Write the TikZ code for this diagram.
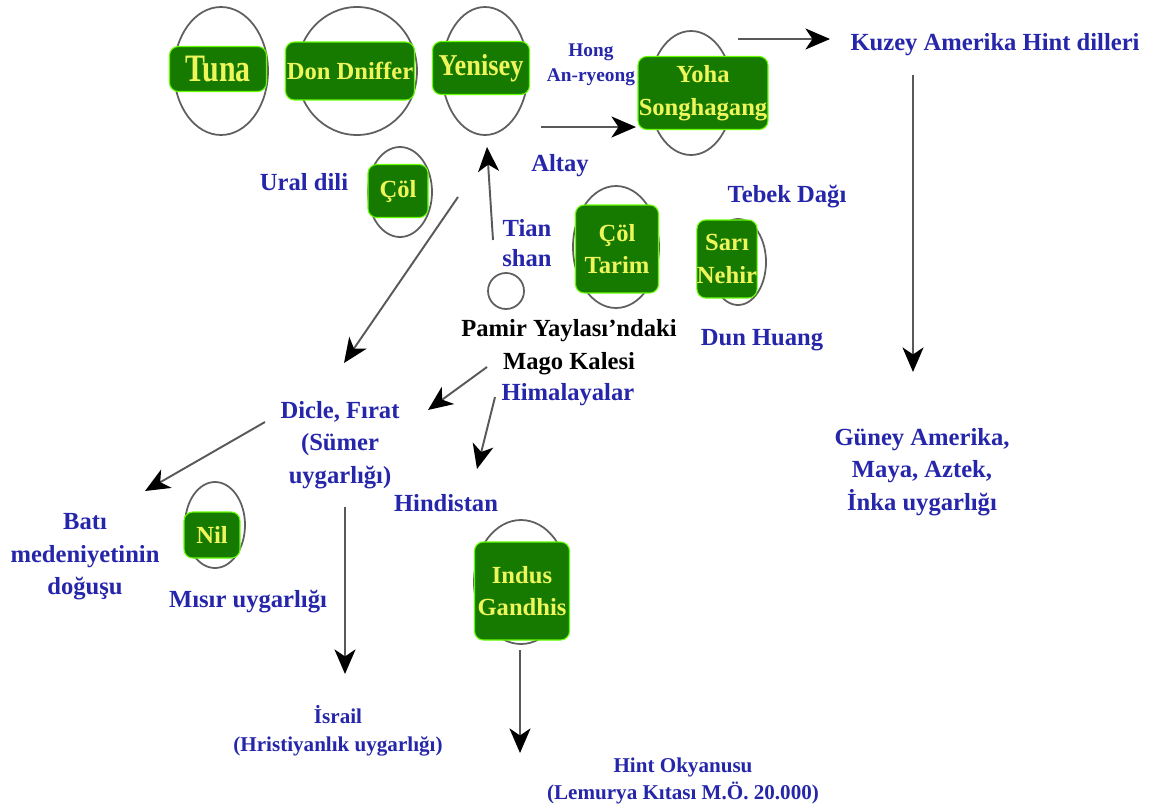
\documentclass[tikz,border=0pt]{standalone}
\usepackage{fontspec}
\setmainfont{Liberation Serif}
\usetikzlibrary{arrows.meta}
\definecolor{boxgreen}{RGB}{22,122,0}
\definecolor{boxyellow}{RGB}{238,246,92}
\definecolor{labelblue}{RGB}{38,38,170}
\definecolor{ringgray}{RGB}{95,95,95}
\newcommand\fsz[1]{\bfseries\fontsize{#1}{1.32\dimexpr#1pt\relax}\selectfont}
\tikzset{
  ring/.style={draw=ringgray, line width=1pt},
  river/.style={fill=boxgreen, draw=green!60!yellow, line width=0.6pt, rounded corners=5pt,
    text=boxyellow, font=\fsz{14}, align=center, inner sep=0pt},
  place/.style={text=labelblue, font=\fsz{14}, align=center},
  flow/.style={draw=black!65, line width=1.1pt,
    -{Stealth[length=14pt,width=12pt,inset=4pt,color=black]}}
}

\begin{document}
\begin{tikzpicture}[x=0.02cm,y=-0.02cm]
  %%%%% START %%%%%

  \fill[white] (0,0) rectangle (1152,805);
  \useasboundingbox (0,0) rectangle (1152,805);

  % rings behind the river boxes
  \draw[ring] (221,71) ellipse (47 and 64);
  \draw[ring] (357,71) ellipse (60 and 64);
  \draw[ring] (485,71) ellipse (43 and 64);
  \draw[ring] (691,93) ellipse (42 and 62);
  \draw[ring] (400,192) ellipse (32 and 45);
  \draw[ring] (616,247) ellipse (43 and 61);
  \draw[ring] (738,262) ellipse (28 and 43);
  \draw[ring] (215,525) ellipse (30 and 43);
  \draw[ring] (521,582) ellipse (47 and 62);
  \draw[ring] (506,291) circle (18);

  % rivers
  \node[river, minimum width=1.94cm, minimum height=0.90cm] (tuna) at (218,69)
    {\scalebox{1}[1.3]{\fsz{17}Tuna}};
  \node[river, minimum width=2.58cm, minimum height=1.16cm] (don) at (350,71) {Don Dniffer};
  \node[river, minimum width=1.94cm, minimum height=1.06cm] (yenisey) at (481,68)
    {\scalebox{1}[1.15]{\fsz{15}Yenisey}};
  \node[river, minimum width=2.60cm, minimum height=1.46cm] (yoha) at (703,93) {Yoha\\Songhagang};
  \node[river, minimum width=1.20cm, minimum height=1.06cm] (col) at (398,191) {Çöl};
  \node[river, minimum width=1.66cm, minimum height=1.76cm] (tarim) at (617,249) {Çöl\\Tarim};
  \node[river, minimum width=1.14cm, minimum height=1.56cm] (sari) at (727,259) {Sarı\\Nehir};
  \node[river, minimum width=1.12cm, minimum height=0.92cm] (nil) at (212,535) {Nil};
  \node[river, minimum width=1.90cm, minimum height=1.96cm] (indus) at (522,591) {Indus\\Gandhis};

  % places
  \node[place, font=\fsz{11}] (hong) at (591,65) {Hong\\An-ryeong};
  \node[place] (kuzey) at (995,45) {Kuzey Amerika Hint dilleri};
  \node[place] (altay) at (560,166) {Altay};
  \node[place] (ural) at (304,182) {Ural dili};
  \node[place, font=\bfseries\fontsize{14}{17}\selectfont] (tian) at (527,243) {Tian\\shan};
  \node[place] (tebek) at (787,197) {Tebek Dağı};
  \node[place] (dun) at (762,340) {Dun Huang};
  \node[align=center, font=\fsz{14}] (pamir) at (569,347) {Pamir Yaylası’ndaki\\Mago Kalesi};
  \node[place] (himalaya) at (568,395) {Himalayalar};
  \node[place] (dicle) at (340,445) {Dicle, Fırat\\(Sümer\\uygarlığı)};
  \node[place] (hindistan) at (446,503) {Hindistan};
  \node[place] (bati) at (85,557) {Batı\\medeniyetinin\\doğuşu};
  \node[place] (misir) at (248,602) {Mısır uygarlığı};
  \node[place, font=\fsz{12}] (israil) at (338,731) {İsrail\\(Hristiyanlık uygarlığı)};
  \node[place, font=\fsz{12}] (hint) at (683,781) {Hint Okyanusu\\(Lemurya Kıtası M.Ö. 20.000)};
  \node[place] (guney) at (922,472) {Güney Amerika,\\Maya, Aztek,\\İnka uygarlığı};

  % arrow ends
  \coordinate (yohaOut) at (738,39);   \coordinate (kuzeyIn) at (830,39);
  \coordinate (altayOut) at (541,127); \coordinate (yohaIn) at (636,127);
  \coordinate (tianOut) at (493,240);  \coordinate (yeniseyIn) at (487,147);
  \coordinate (ortaOut) at (458,197);  \coordinate (dicleUp) at (344,363);
  \coordinate (pamirOut) at (487,367); \coordinate (dicleIn) at (428,410);
  \coordinate (himaOut) at (495,397);  \coordinate (hindIn) at (477,469);
  \coordinate (dicleOut) at (265,422); \coordinate (batiIn) at (145,491);
  \coordinate (sumerOut) at (345,507); \coordinate (israilIn) at (345,674);
  \coordinate (indusOut) at (520,650); \coordinate (hintIn) at (520,753);
  \coordinate (kuzeyOut) at (913,75);  \coordinate (guneyIn) at (913,372);

  \draw[flow] (yohaOut) -- (kuzeyIn);
  \draw[flow] (altayOut) -- (yohaIn);
  \draw[flow] (tianOut) -- (yeniseyIn);
  \draw[flow] (ortaOut) -- (dicleUp);
  \draw[flow] (pamirOut) -- (dicleIn);
  \draw[flow] (himaOut) -- (hindIn);
  \draw[flow] (dicleOut) -- (batiIn);
  \draw[flow] (sumerOut) -- (israilIn);
  \draw[flow] (indusOut) -- (hintIn);
  \draw[flow] (kuzeyOut) -- (guneyIn);

  %%%%% END %%%%%
\end{tikzpicture}
\end{document}
